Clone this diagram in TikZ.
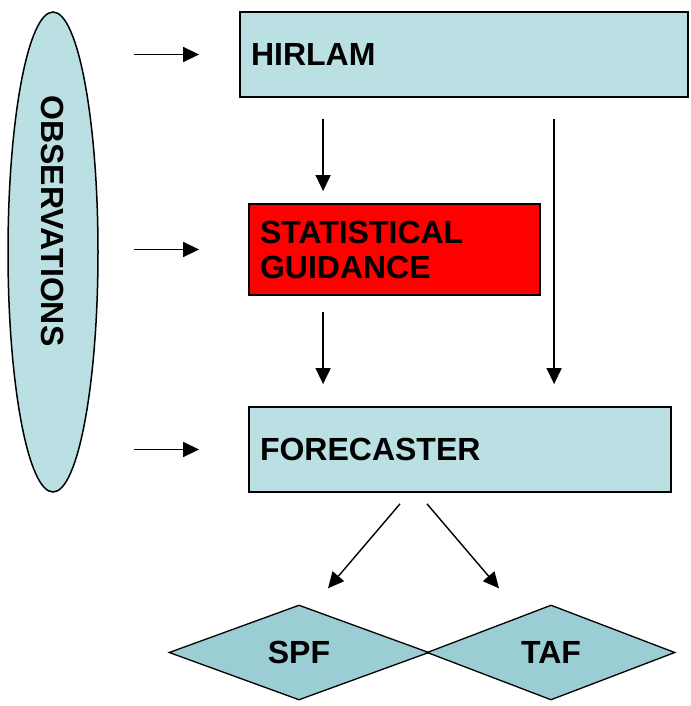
\documentclass[tikz,border=0pt]{standalone}
\usepackage{fontspec}
\setmainfont{Liberation Sans}
\usepackage{graphicx}
\usepackage{tikz}
\usetikzlibrary{positioning}
\usetikzlibrary{calc}
\usetikzlibrary{arrows.meta}
\usetikzlibrary{shapes.geometric}
\usepackage{xcolor}

\definecolor{boxblue}{RGB}{186,224,227}
\definecolor{diablue}{RGB}{155,205,212}

\begin{document}
\begin{tikzpicture}[x=1pt, y=-1pt,
  box/.style={draw=black, line width=1.8pt, fill=boxblue, inner xsep=11pt, inner ysep=0pt, align=left,
    font=\bfseries\fontsize{32}{35}\selectfont},
  dia/.style={draw=black, line width=1.3pt, fill=diablue, diamond, inner sep=0pt, minimum height=95pt,
    font=\bfseries\fontsize{32}{35}\selectfont},
  arr/.style={-{Triangle[length=16pt,width=15pt]}, line width=1.4pt}]

\useasboundingbox (0,0) rectangle (690,706);

% observation ellipse on the left
\node[ellipse, draw=black, line width=1.5pt, fill=boxblue, inner sep=0pt, minimum width=90pt, minimum height=480pt,
  font=\bfseries\fontsize{32}{35}\selectfont] (obs) at (53,252) {\rotatebox{-90}{OBSERVATIONS\hspace*{62pt}}};

% boxes
\node[box, text width=426pt, minimum height=85pt] (hirlam) at (464,54.5) {HIRLAM};
\node[box, fill=red, text width=269pt, minimum height=91pt] (sg) at (394.5,249.5) {STATISTICAL\\GUIDANCE};
\node[box, text width=400pt, minimum height=85pt] (fc) at (460,449.5) {FORECASTER};

% products
\node[dia, minimum width=260pt] (spf) at (299,652.5) {SPF};
\node[dia, minimum width=248pt] (taf) at (551,652.5) {TAF};

% inputs from the observations
\draw[arr, shorten <=35pt, shorten >=40pt] (obs.east |- hirlam.west) -- (hirlam.west);
\draw[arr, shorten <=35pt, shorten >=49pt] (obs.east |- sg.west) -- (sg.west);
\draw[arr, shorten <=35pt, shorten >=49pt] (obs.east |- fc.west) -- (fc.west);

% model chain
\draw[arr] ($(sg.north west |- hirlam.south)+(75,21)$) -- ($(sg.north west)+(75,-12)$);
\draw[arr] ($(sg.south west)+(75,16)$) -- ($(fc.north west)+(75,-22)$);
\draw[arr] ($(hirlam.south west)+(315,21)$) -- ($(hirlam.south west |- fc.north)+(315,-22)$);

% forecaster output
\draw[arr] ($(fc.south)+(-60,11)$) -- ($(spf.north)+(29,-16)$);
\draw[arr] ($(fc.south)+(-33,11)$) -- ($(taf.north)+(-52,-16)$);

\end{tikzpicture}
\end{document}
